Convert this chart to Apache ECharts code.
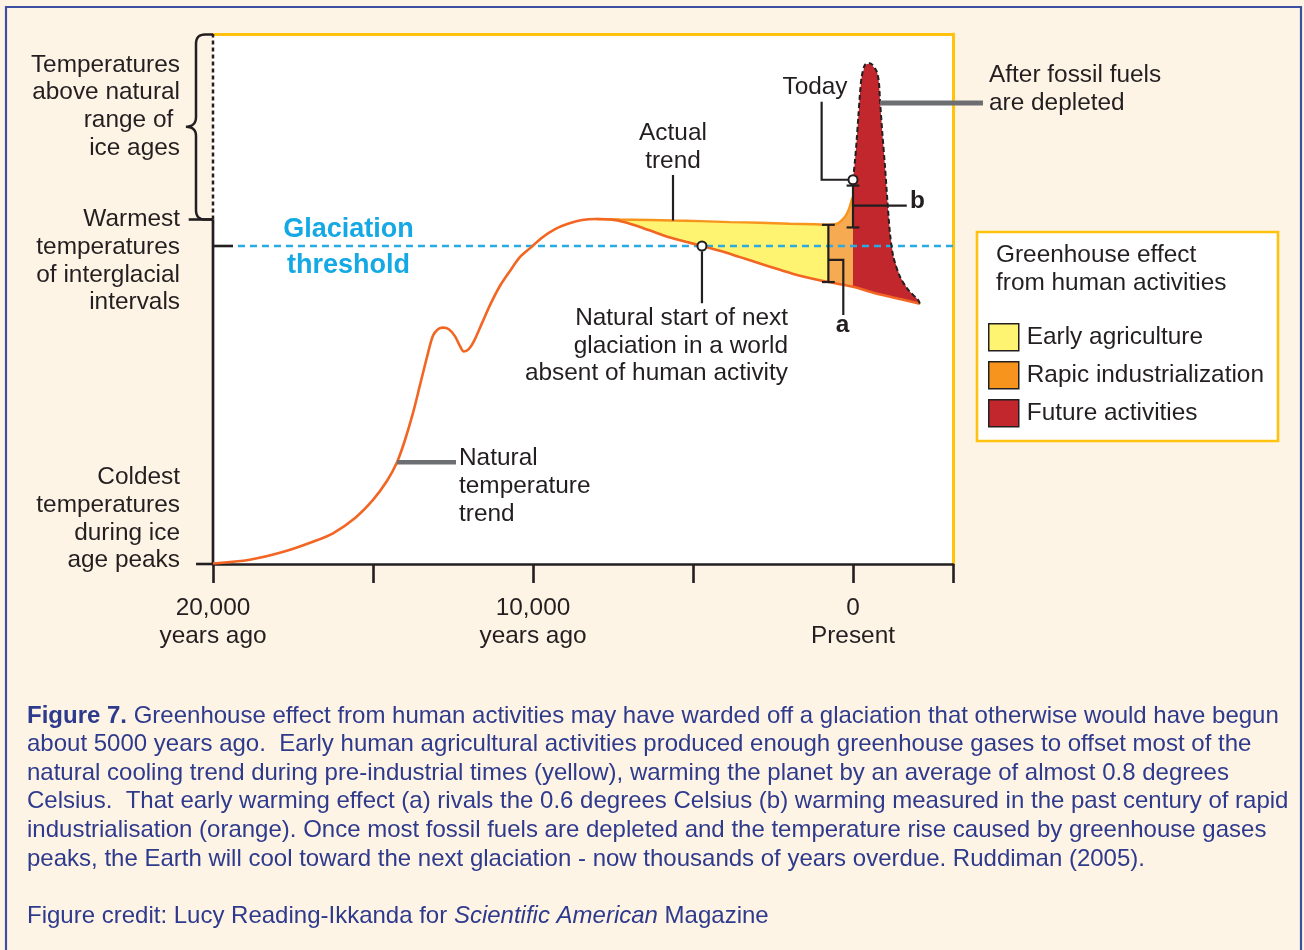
<!DOCTYPE html>
<html><head><meta charset="utf-8">
<script src="https://cdn.jsdelivr.net/npm/echarts@6/dist/echarts.min.js"></script>
<style>html,body{margin:0;padding:0;background:#FEF4E6;}#chart{width:1304px;height:950px;}</style>
</head><body><div id="chart"></div>
<script>
// ---------- DATA (year relative to present, temperature in relative units: 0 = coldest ice-age peak) ----------
const naturalTrend = [
  [-20000, 0.1], [-18850, 0.8], [-17800, 2.3], [-16880, 4.2], [-16250, 5.8], [-15560, 8.7],
  [-15000, 12.1], [-14560, 15.7], [-14250, 19.2], [-14000, 23.4], [-13750, 28.5], [-13530, 33.8],
  [-13310, 39.1], [-13130, 43.0], [-12970, 44.3], [-12810, 44.6], [-12630, 44.3], [-12440, 43.0],
  [-12280, 41.1], [-12160, 40.1], [-12000, 40.6], [-11840, 42.1], [-11590, 45.5], [-11340, 48.9],
  [-11030, 52.5], [-10720, 55.3], [-10410, 57.9], [-10090, 59.6], [-9690, 61.7], [-9310, 63.2],
  [-8910, 64.2], [-8470, 64.9], [-8030, 65.1], [-7590, 65.0], [-7130, 64.5], [-6660, 63.6],
  [-6190, 62.6], [-5720, 61.6], [-5220, 60.8], [-4720, 60.0], [-4160, 59.1], [-3530, 57.9],
  [-2910, 56.7], [-2280, 55.5], [-1660, 54.4], [-770, 53.2], [0, 52.3], [690, 51.1],
  [1470, 50.0], [2090, 49.1]
];
const actualTrend = [
  [-8030, 65.1], [-7280, 65.0], [-6340, 64.9], [-5620, 64.8], [-4780, 64.7], [-3840, 64.5],
  [-2910, 64.4], [-1970, 64.2], [-1190, 64.1], [-770, 64.0], [-470, 64.3], [-250, 65.5],
  [-125, 67.0], [-30, 68.9], [0, 69.2]
];
const futureWarming = [
  [0, 69.2], [0, 72.5], [63, 76.2], [115, 80.0], [166, 84.4], [219, 88.8], [271, 91.9],
  [375, 94.2], [531, 94.5], [688, 93.5], [760, 92.6], [813, 90.7], [844, 87.5], [917, 81.3],
  [1000, 75.0], [1073, 68.7], [1156, 62.4], [1260, 58.0], [1469, 54.2], [1728, 51.7],
  [2040, 49.8], [2090, 49.1]
];
const todayPoint = [0, 72.5];
const naturalGlaciationStart = [-4720, 60];
const coldestIceAge = 0;
const glaciationThreshold = 60;
const warmestInterglacial = 65;
const topOfScale = 100;
const bracketA = { year: -770, low: 53.2, high: 64.0 };
const bracketB = { year: 0, low: 63.5, high: 71.4 };
const xTickValues = [-20000, -10000, 0];
const xTickLabels = ['20,000\nyears ago', '10,000\nyears ago', '0\nPresent'];
const seriesNames = ['Early agriculture', 'Rapic industrialization', 'Future activities'];

// ---------- STYLE ----------
const FONT = '"Liberation Sans", Arial, Helvetica, sans-serif';
const INK = '#231F20';
const CAP = '#2E3A8C';
const YEL = '#FFC20E';
const LS = 24.4;

const chart = echarts.init(document.getElementById('chart'), null, { width: 1304, height: 950 });

function region(name, legendColor, fillColor, upper, lo, hi) {
  const lower = naturalTrend.filter(p => p[0] >= lo && p[0] <= hi).slice().reverse();
  const poly = upper.concat(lower);
  return {
    type: 'custom', name, coordinateSystem: 'cartesian2d', xAxisIndex: 0, yAxisIndex: 0,
    itemStyle: { color: legendColor }, z: 2, silent: true, clip: false,
    data: [[lo, 50]],
    renderItem: (params, api) => ({
      type: 'polygon', shape: { points: poly.map(p => api.coord(p)) }, style: { fill: fillColor }
    })
  };
}
function pathSeries(name, paths, z) {
  return {
    type: 'custom', name, coordinateSystem: 'cartesian2d', xAxisIndex: 0, yAxisIndex: 0,
    z, silent: true, clip: false,
    data: paths.map(() => [0, 50]),
    renderItem: (params, api) => {
      const p = paths[params.dataIndex];
      return {
        type: 'polyline', shape: { points: p.pts.map(q => api.coord(q)) },
        style: { stroke: p.color || INK, lineWidth: p.width || 2.2, lineDash: p.dash || null, fill: null, lineCap: 'butt' }
      };
    }
  };
}

const X0 = -20000, XMAX = 3125;
const guides = [
  { pts: [[X0, coldestIceAge], [X0, warmestInterglacial]], width: 2.7 },
  { pts: [[X0, warmestInterglacial], [X0, topOfScale]], width: 2.5, dash: [4, 3] },
  { pts: [[X0 - 530, coldestIceAge], [X0, coldestIceAge]], width: 2.6 },
  { pts: [[X0 - 760, warmestInterglacial], [X0, warmestInterglacial]], width: 2.6 },
  { pts: [[X0, glaciationThreshold], [X0 + 625, glaciationThreshold]], width: 2.6 },
  { pts: [[X0 + 780, glaciationThreshold], [XMAX, glaciationThreshold]], width: 2.6, color: '#29ABE2', dash: [7, 5] }
];
const leaders = [
  { pts: [[bracketA.year, bracketA.low], [bracketA.year, bracketA.high]] },
  { pts: [[bracketA.year - 200, bracketA.high], [bracketA.year + 200, bracketA.high]] },
  { pts: [[bracketA.year - 200, bracketA.low], [bracketA.year + 200, bracketA.low]] },
  { pts: [[bracketA.year, 57.4], [-303, 57.4], [-303, 47.0]] },
  { pts: [[bracketB.year, bracketB.low], [bracketB.year, bracketB.high]] },
  { pts: [[bracketB.year - 200, bracketB.high], [bracketB.year + 200, bracketB.high]] },
  { pts: [[bracketB.year - 200, bracketB.low], [bracketB.year + 200, bracketB.low]] },
  { pts: [[bracketB.year, 67.6], [1680, 67.6]] },
  { pts: [[-980, 87.2], [-980, todayPoint[1]], [-150, todayPoint[1]]] },
  { pts: [[-5625, 73.4], [-5625, 64.8]] },
  { pts: [[naturalGlaciationStart[0], 59], [naturalGlaciationStart[0], 49.2]] },
  { pts: [[-14250, 19.2], [-12406, 19.2]], color: '#6D6E71', width: 4.5 },
  { pts: [[844, 87.0], [4062, 87.0]], color: '#6D6E71', width: 5 }
];

function label(x, yFirst, lines, o) {
  o = o || {};
  const lh = o.lh || 27.7;
  return {
    type: 'text', z: 100, silent: true, x: x, y: yFirst - lh / 2,
    style: {
      text: lines.join('\n'), fill: o.color || INK, fontFamily: FONT, fontSize: o.size || LS,
      fontWeight: o.weight || 'normal', align: o.align || 'left', verticalAlign: 'top', lineHeight: lh
    }
  };
}

// curly brace as a polyline of quadratic-bezier samples (pixel layout of the axis decoration)
function quad(p0, c, p1, n) {
  const out = [];
  for (let i = 0; i <= n; i++) {
    const t = i / n, u = 1 - t;
    out.push([u * u * p0[0] + 2 * u * t * c[0] + t * t * p1[0], u * u * p0[1] + 2 * u * t * c[1] + t * t * p1[1]]);
  }
  return out;
}
const bracePts = [[213, 34.5]]
  .concat(quad([205, 34.5], [196, 34.5], [196, 44], 8))
  .concat(quad([196, 117], [196, 126.5], [186, 126.8], 8))
  .concat(quad([186, 126.8], [196, 127], [196, 136], 8))
  .concat(quad([196, 210], [196, 219.5], [205, 219.5], 8))
  .concat([[213, 219.5]]);

// caption font size fitted to the caption block width
const mctx = document.createElement('canvas').getContext('2d');
function mw(t, s, w) { mctx.font = (w || 'normal') + ' ' + s + 'px "Liberation Sans"'; return mctx.measureText(t).width; }
const cap1a = 'Figure 7.', cap1b = ' Greenhouse effect from human activities may have warded off a glaciation that otherwise would have begun';
const capLines = [
  '{b|' + cap1a + '}' + cap1b,
  'about 5000 years ago.  Early human agricultural activities produced enough greenhouse gases to offset most of the',
  'natural cooling trend during pre-industrial times (yellow), warming the planet by an average of almost 0.8 degrees',
  'Celsius.  That early warming effect (a) rivals the 0.6 degrees Celsius (b) warming measured in the past century of rapid',
  'industrialisation (orange). Once most fossil fuels are depleted and the temperature rise caused by greenhouse gases',
  'peaks, the Earth will cool toward the next glaciation - now thousands of years overdue. Ruddiman (2005).'
];
const w1 = mw(cap1a, 100, 'bold') + mw(cap1b, 100);
const w4 = mw(capLines[3], 100);
const CS = Math.floor(100 * 1262 / Math.max(w1, w4) * 10) / 10;
const capY = [716, 744.6, 773.2, 801.8, 830.4, 859];
const capRich = {
  b: { fontWeight: 'bold', fontSize: CS, fontFamily: FONT, fill: CAP },
  n: { fontSize: CS, fontFamily: FONT, fill: CAP },
  i: { fontStyle: 'italic', fontSize: CS, fontFamily: FONT, fill: CAP }
};
const captionEls = capLines.map((t, i) => ({
  type: 'text', z: 100, silent: true, x: 27, y: capY[i],
  style: { text: t, rich: capRich, fontSize: CS, fontFamily: FONT, fill: CAP, align: 'left', verticalAlign: 'middle' }
}));
captionEls.push({
  type: 'text', z: 100, silent: true, x: 27, y: 916,
  style: { text: '{n|Figure credit: Lucy Reading-Ikkanda for }{i|Scientific American}{n| Magazine}', rich: capRich,
    fontSize: CS, fontFamily: FONT, fill: CAP, align: 'left', verticalAlign: 'middle' }
});

const graphics = [
  { type: 'rect', z: 0, silent: true, shape: { x: 6, y: 7, width: 1295, height: 990 }, style: { fill: 'none', stroke: '#3D4FA1', lineWidth: 2.2 } },
  { type: 'polyline', z: 100, silent: true, shape: { points: bracePts }, style: { fill: 'none', stroke: INK, lineWidth: 2.5 } },
  { type: 'rect', z: 1, silent: true, shape: { x: 977, y: 232, width: 301, height: 209 }, style: { fill: '#FFFFFF', stroke: YEL, lineWidth: 2.6 } },
  label(996, 255.5, ['Greenhouse effect', 'from human activities']),
  label(180, 65, ['Temperatures', 'above natural', 'range of ', 'ice ages'], { align: 'right' }),
  label(180, 219.5, ['Warmest', 'temperatures', 'of interglacial', 'intervals'], { align: 'right' }),
  label(180, 477.5, ['Coldest', 'temperatures', 'during ice', 'age peaks'], { align: 'right' }),
  label(348.5, 229.5, ['Glaciation', 'threshold'], { align: 'center', color: '#14A8E4', size: 27, weight: 'bold', lh: 36.5 }),
  label(815, 87.5, ['Today'], { align: 'center' }),
  label(673, 133.5, ['Actual', 'trend'], { align: 'center' }),
  label(788, 318.3, ['Natural start of next', 'glaciation in a world', 'absent of human activity'], { align: 'right' }),
  label(459, 458.5, ['Natural', 'temperature', 'trend']),
  label(989, 75.5, ['After fossil fuels', 'are depleted']),
  label(842.5, 325, ['a'], { align: 'center', weight: 'bold' }),
  label(917.5, 201, ['b'], { align: 'center', weight: 'bold' })
].concat(captionEls);

const option = {
  backgroundColor: '#FEF4E6',
  animation: false,
  grid: { left: 213, top: 34, width: 740, height: 530, show: true, backgroundColor: '#FFFFFF', borderWidth: 0 },
  xAxis: [
    {
      type: 'value', min: X0, max: XMAX, interval: 5000, position: 'bottom',
      axisLine: { show: true, onZero: false, lineStyle: { color: INK, width: 2.7 } },
      axisTick: { show: true, length: 19, lineStyle: { color: INK, width: 2.6 } },
      splitLine: { show: false },
      axisLabel: {
        show: true, margin: 30, fontFamily: FONT, fontSize: LS, lineHeight: 28, color: INK,
        showMinLabel: true, showMaxLabel: true, hideOverlap: false,
        formatter: function (v) { const i = xTickValues.indexOf(v); return i >= 0 ? xTickLabels[i] : ''; }
      }
    },
    {
      type: 'value', min: X0, max: XMAX, position: 'top',
      axisLine: { show: true, onZero: false, lineStyle: { color: YEL, width: 3 } },
      axisTick: { show: false }, axisLabel: { show: false }, splitLine: { show: false }
    }
  ],
  yAxis: [
    { type: 'value', min: 0, max: topOfScale, position: 'left', axisLine: { show: false }, axisTick: { show: false }, axisLabel: { show: false }, splitLine: { show: false } },
    { type: 'value', min: 0, max: topOfScale, position: 'right', axisLine: { show: true, onZero: false, lineStyle: { color: YEL, width: 3 } }, axisTick: { show: false }, axisLabel: { show: false }, splitLine: { show: false } }
  ],
  legend: {
    show: true, orient: 'vertical', left: 988, top: 323, itemWidth: 30, itemHeight: 27, itemGap: 9.5,
    icon: 'rect', selectedMode: false, padding: 0, z: 5,
    textStyle: { fontFamily: FONT, fontSize: LS, color: INK, padding: [0, 0, 0, 3] },
    itemStyle: { borderColor: INK, borderWidth: 1.5 },
    data: seriesNames
  },
  series: [
    region(seriesNames[0], '#FFF471', '#FFF471', actualTrend.filter(p => p[0] <= bracketA.year), -8030, bracketA.year),
    region(seriesNames[1], '#F7941D', '#F6AA52', actualTrend.filter(p => p[0] >= bracketA.year), bracketA.year, 0),
    region(seriesNames[2], '#C1272D', '#C1272D', futureWarming, 0, 2090),
    pathSeries('guides', guides, 3),
    { type: 'line', name: 'Actual trend', data: actualTrend, symbol: 'none', smooth: 0.3, clip: false, silent: true,
      lineStyle: { color: '#F7941D', width: 2.4 }, z: 4 },
    { type: 'line', name: 'Natural temperature trend', data: naturalTrend, symbol: 'none', smooth: 0.3, clip: false, silent: true,
      lineStyle: { color: '#F26522', width: 2.6 }, z: 4 },
    { type: 'line', name: 'After fossil fuels', data: futureWarming.slice(1), symbol: 'none', smooth: 0.3, clip: false, silent: true,
      lineStyle: { color: INK, width: 2, type: [5, 3] }, z: 5 },
    pathSeries('leaders', leaders, 6),
    { type: 'scatter', name: 'markers', data: [todayPoint, naturalGlaciationStart], symbol: 'circle', symbolSize: 9, silent: true,
      itemStyle: { color: '#FFFFFF', borderColor: INK, borderWidth: 2, opacity: 1 }, z: 7 }
  ],
  graphic: graphics
};
try {
  chart.setOption(option);
} catch (e) {
  console.error('setOption failed: ' + e.message + ' ' + e.stack);
}
</script></body></html>
